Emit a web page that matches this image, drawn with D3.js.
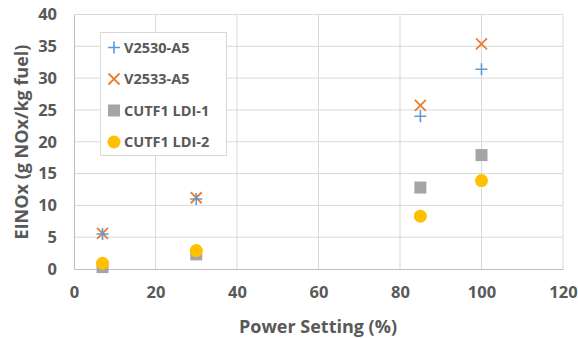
<!DOCTYPE html>
<html>
<head>
<meta charset="utf-8">
<script src="https://cdn.jsdelivr.net/npm/d3@7"></script>
<style>
  body { margin: 0; background: #fff; }
  text { font-family: "Open Sans", "Liberation Sans", sans-serif; font-weight: bold; fill: #595959; }
</style>
</head>
<body>
<script>
let power = [7, 30, 85, 100]
let v2530 = [5.5, 11.0, 24.0, 31.4]
let v2533 = [5.6, 11.2, 25.7, 35.4]
let ldi1 = [0.3, 2.3, 12.8, 17.9]
let ldi2 = [0.9, 2.9, 8.3, 13.9]
let seriesNames = ["V2530-A5", "V2533-A5", "CUTF1 LDI-1", "CUTF1 LDI-2"]
let xTicks = [0, 20, 40, 60, 80, 100, 120]
let yTicks = [0, 5, 10, 15, 20, 25, 30, 35, 40]

let w = 578, h = 338
let pL = 74, pR = 563, pT = 14.5, pB = 269

let svg = d3.select("body").append("svg").attr("width", w).attr("height", h)

let x = d3.scaleLinear().domain([0, 120]).range([pL, pR])
let y = d3.scaleLinear().domain([0, 40]).range([pB, pT])

// grid
svg.append("g").selectAll("line").data(xTicks.slice(1)).enter().append("line")
    .attr("x1", d => x(d)).attr("x2", d => x(d)).attr("y1", pT).attr("y2", pB)
    .attr("stroke", "#d9d9d9").attr("stroke-width", 1)
svg.append("g").selectAll("line").data(yTicks.slice(1)).enter().append("line")
    .attr("x1", pL).attr("x2", pR).attr("y1", d => y(d)).attr("y2", d => y(d))
    .attr("stroke", "#d9d9d9").attr("stroke-width", 1)

let xAxis = svg.append("g").attr("transform", `translate(0,${pB})`)
    .call(d3.axisBottom(x).tickValues(xTicks).tickSize(0).tickPadding(17))
xAxis.select(".domain").attr("stroke", "#bfbfbf")
xAxis.selectAll("text").style("font-size", "16.5px")

let yAxis = svg.append("g").attr("transform", `translate(${pL},0)`)
    .call(d3.axisLeft(y).tickValues(yTicks).tickSize(0).tickPadding(17))
yAxis.select(".domain").attr("stroke", "#bfbfbf")
yAxis.selectAll("text").style("font-size", "16.5px")

svg.append("text").attr("x", 318).attr("y", 333)
    .attr("text-anchor", "middle").style("font-size", "18px").text("Power Setting (%)")
svg.append("text").attr("transform", `translate(28,142) rotate(-90)`)
    .attr("text-anchor", "middle").style("font-size", "18px").text("EINOx (g NOx/kg fuel)")

let colors = ["#5b9bd5", "#ed7d31", "#a5a5a5", "#ffc000"]

function plus(g, cx, cy, c) {
    g.append("path").attr("d", `M${cx - 6},${cy}H${cx + 6}M${cx},${cy - 6}V${cy + 6}`)
        .attr("stroke", c).attr("stroke-width", 1.6).attr("fill", "none")
}
function cross(g, cx, cy, c) {
    g.append("path").attr("d", `M${cx - 5.5},${cy - 5.5}L${cx + 5.5},${cy + 5.5}M${cx - 5.5},${cy + 5.5}L${cx + 5.5},${cy - 5.5}`)
        .attr("stroke", c).attr("stroke-width", 1.8).attr("fill", "none")
}
function square(g, cx, cy, c) {
    g.append("rect").attr("x", cx - 6).attr("y", cy - 6).attr("width", 12).attr("height", 12).attr("fill", c)
}
function circle(g, cx, cy, c) {
    g.append("circle").attr("cx", cx).attr("cy", cy).attr("r", 6.5).attr("fill", c)
}
let markers = [plus, cross, square, circle]
let data = [v2530, v2533, ldi1, ldi2]

let pts = svg.append("g")
// squares and circles first, then crosses and plus on top
;[2, 3, 1, 0].forEach(s => {
    data[s].forEach((v, i) => markers[s](pts, x(power[i]), y(v), colors[s]))
})

// legend
let lg = svg.append("g")
lg.append("rect").attr("x", 100.5).attr("y", 32.5).attr("width", 126).attr("height", 123)
    .attr("fill", "#fff").attr("stroke", "#d9d9d9")
seriesNames.forEach((n, i) => {
    let cy = 47.5 + i * 31.5
    markers[i](lg, 114, cy, colors[i])
    lg.append("text").attr("x", 124).attr("y", cy + 5).style("font-size", "14.5px").text(n)
})
</script>
</body>
</html>
